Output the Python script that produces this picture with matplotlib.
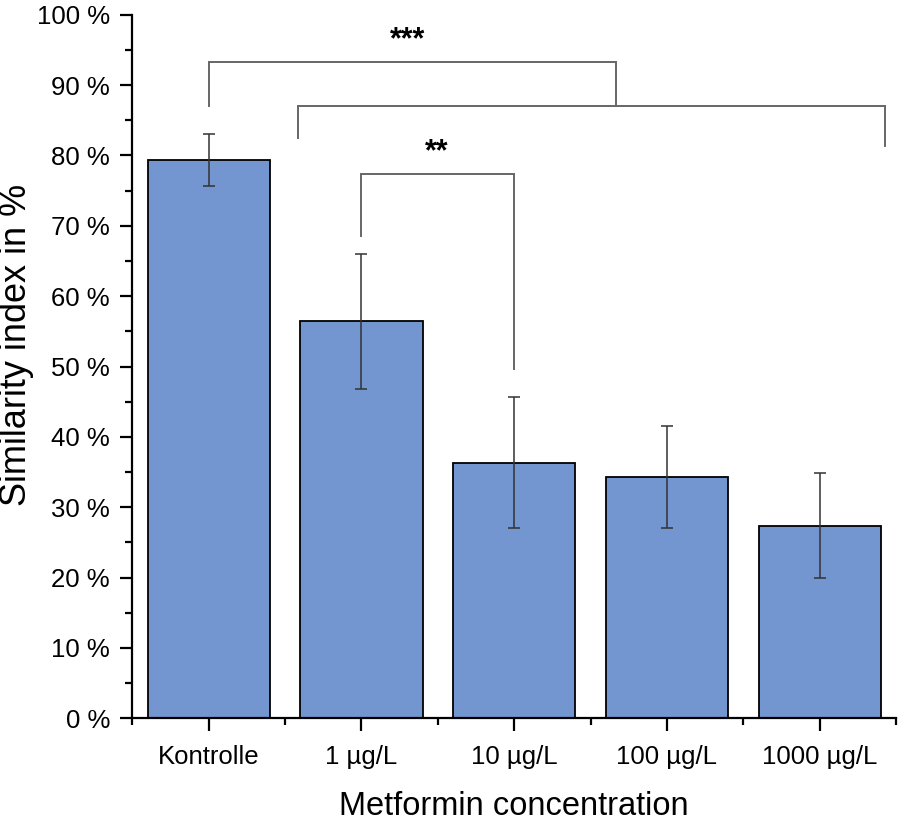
import numpy as np
import matplotlib
matplotlib.use("Agg")
from matplotlib import pyplot as plt
from matplotlib.ticker import MultipleLocator, FixedLocator, FuncFormatter

# values
groups = ["Kontrolle", "1 µg/L", "10 µg/L", "100 µg/L", "1000 µg/L"]
similarity = [79.4, 56.4, 36.3, 34.3, 27.4]
err_low = [3.8, 9.6, 9.2, 7.2, 7.5]
err_high = [3.6, 9.6, 9.3, 7.3, 7.5]

# significance brackets: (x_left, x_right, y_bar, y_left_end, y_right_end)
brackets = [
    (0.0, 2.666, 93.3, 87.0, 87.0),
    (0.583, 4.43, 87.0, 82.5, 81.4),
    (1.0, 2.0, 77.3, 68.5, 49.7),
]
stars = [("***", 1.30, 96.4), ("**", 1.49, 80.4)]

plt.rcParams["font.family"] = ["Liberation Sans", "DejaVu Sans"]

fig = plt.figure(figsize=(8.98, 8.23), dpi=100)
ax = fig.add_axes([0.1473, 0.1272, 0.8505, 0.8549])

x = np.arange(len(groups))
ax.bar(x, similarity, width=0.8, color="#7395d0", edgecolor="black", linewidth=1.3, zorder=2)
ax.errorbar(x, similarity, yerr=[err_low, err_high], fmt="none", ecolor="#333333",
            elinewidth=1.1, capsize=4.5, capthick=1.1, zorder=3)

for xl, xr, yb, yl, yr in brackets:
    ax.plot([xl, xl, xr, xr], [yl, yb, yb, yr], color="#666666", lw=1.4,
            clip_on=False, zorder=1, solid_joinstyle="miter")
for s, sx, sy in stars:
    ax.text(sx, sy, s, ha="center", va="center", fontsize=22, fontweight="bold")

ax.set_xlim(-0.5, 4.5)
ax.set_ylim(0, 100)
ax.set_xticks(x)
ax.set_xticklabels(groups)
ax.xaxis.set_minor_locator(FixedLocator(np.arange(-0.5, 4.6, 1.0)))
ax.yaxis.set_major_locator(MultipleLocator(10))
ax.yaxis.set_minor_locator(MultipleLocator(5))
ax.yaxis.set_major_formatter(FuncFormatter(lambda v, p: f"{v:.0f} %"))

ax.spines["top"].set_visible(False)
ax.spines["right"].set_visible(False)
ax.spines["left"].set_linewidth(1.6)
ax.spines["bottom"].set_linewidth(1.6)
ax.tick_params(axis="both", which="major", direction="out", length=9, width=1.6, labelsize=18.5)
ax.tick_params(axis="both", which="minor", direction="out", length=5, width=1.6)
ax.tick_params(axis="y", which="major", pad=7)
ax.tick_params(axis="x", which="major", pad=10)

ax.set_xlabel("Metformin concentration", fontsize=23.5, labelpad=16)
# y label placed by hand, the tick labels would push it off the figure
fig.text(17 / 898, 1 - 345 / 823, "Similarity index in %", rotation=90,
         ha="center", va="center", fontsize=26)

fig.savefig("out.png", dpi=100)
